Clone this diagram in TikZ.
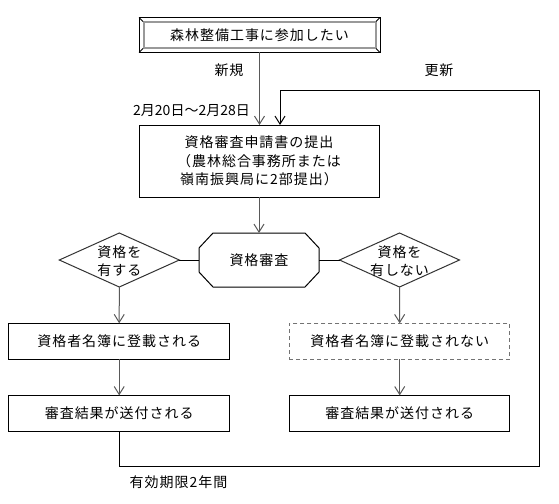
\documentclass[tikz,border=0pt]{standalone}
\usepackage{fontspec}
\setmainfont[LetterSpace=7]{Noto Sans CJK JP}
\usetikzlibrary{arrows.meta,shapes.geometric,calc}
\begin{document}
\begin{tikzpicture}[x=1pt,y=-1pt,
  every node/.style={font=\fontsize{14}{18.3}\selectfont, inner sep=0pt, outer sep=0pt},
  plainbox/.style={draw=black, line width=1pt, rectangle, minimum width=220.5pt, minimum height=36pt, align=center},
  dashbox/.style={plainbox, draw=black!55, dash pattern=on 4pt off 3pt},
  arr/.style={draw=black!65, line width=1pt, -{Straight Barb[length=8pt,width=10pt]}},
  link/.style={draw=black, line width=1pt},
  decide/.style={diamond, draw=black!80, line width=1pt, minimum width=120pt, minimum height=54pt}
]
\useasboundingbox (0,0) rectangle (559,503);
\fill[white] (0,0) rectangle (559,503);

% top framed box
\node (top) at (259.5,35) [minimum width=241pt, minimum height=35pt] {森林整備工事に参加したい};
\draw[black, line width=1pt] (top.north west) rectangle (top.south east);
\draw[black!40, line width=2pt] ($(top.north west)+(4.5,4.5)$) rectangle ($(top.south east)+(-4.5,-4.5)$);
\draw[black, line width=0.8pt] (top.north west) -- ($(top.north west)+(4,4)$)
  (top.north east) -- ($(top.north east)+(-4,4)$)
  (top.south west) -- ($(top.south west)+(4,-4)$)
  (top.south east) -- ($(top.south east)+(-4,-4)$);

% application box
\node (apply) at (259,161) [plainbox, minimum width=240pt, minimum height=72pt] {資格審査申請書の提出\\（農林総合事務所または\\嶺南振興局に2部提出）};

% exam octagon
\node (exam) at (259,260) [minimum width=120pt, minimum height=54pt] {資格審査};
\draw[black, line width=1pt]
  ($(exam.north west)+(14,0)$) -- ($(exam.north east)+(-14,0)$) -- ($(exam.north east)+(0,15)$)
  -- ($(exam.south east)+(0,-15)$) -- ($(exam.south east)+(-14,0)$) -- ($(exam.south west)+(14,0)$)
  -- ($(exam.south west)+(0,-15)$) -- ($(exam.north west)+(0,15)$) -- cycle;

% decisions
\node (dl) at (119.3,260) [decide] {};
\node (dlt) at (119.3,261) [align=center] {資格を\\有する};
\node (dr) at (399.5,260) [decide] {};
\node (drt) at (399.5,261) [align=center] {資格を\\有しない};

% result boxes
\node (b1) at (119.2,341.3) [plainbox] {資格者名簿に登載される};
\node (b2) at (119.2,413.4) [plainbox] {審査結果が送付される};
\node (b3) at (399.7,341.3) [dashbox] {資格者名簿に登載されない};
\node (b4) at (399.7,413.4) [plainbox] {審査結果が送付される};

% labels
\node (shinki) at (229,70.7) {新規};
\node (koushin) at (439,70) {更新};
\node (date) at (191.5,110.7) {\addfontfeature{LetterSpace=0}2月20日～2月28日};
\node (valid) at (178.5,482.3) {有効期限2年間};

% connectors
\coordinate (loopB) at (119.2,466.7);
\coordinate (loopR) at (539.3,466.7);
\coordinate (loopT) at (539.3,90);
\coordinate (renew) at (280,90);

\draw[arr] (top.south) -- (top.south |- apply.north);
\draw[link, -{Straight Barb[length=8pt,width=10pt]}] (b2.south) -- (loopB) -- (loopR) -- (loopT) -- (renew) -- (renew |- apply.north);
\draw[arr] (apply.south) -- (exam.north);
\draw[link] (dl.east) -- (exam.west);
\draw[link] (exam.east) -- (dr.west);
\draw[arr] (dl.south) -- (b1.north);
\draw[arr] (dr.south) -- (b3.north);
\draw[arr] (b1.south) -- (b2.north);
\draw[arr] (b3.south) -- (b4.north);
\end{tikzpicture}
\end{document}
